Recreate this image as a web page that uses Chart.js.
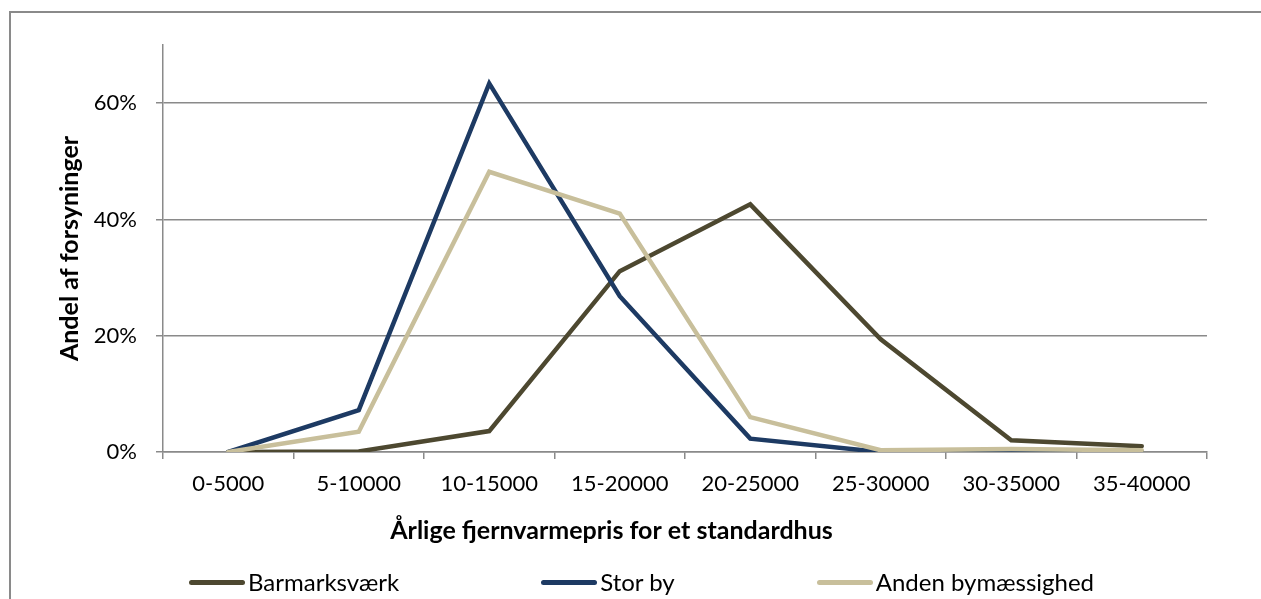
<!DOCTYPE html>
<html>
<head>
<meta charset="utf-8">
<script src="https://cdn.jsdelivr.net/npm/chart.js@4"></script>
<style>
    body { margin: 0; background: #fff; font-family: Lato, sans-serif; }
    #wrap { position: relative; width: 1261px; height: 599px; overflow: hidden; }
    #frame { position: absolute; left: 9px; top: 11px; width: 1300px; height: 700px; border: 2px solid #8a8a8a; }
    #chart { position: absolute; left: 0; top: 0; }
    #legend { position: absolute; left: 189px; top: 567px; display: flex; align-items: center; height: 30px; }
    .item { display: flex; align-items: center; margin-right: 142px; }
    .swatch { width: 56px; height: 5px; border-radius: 3px; margin-right: 3px; }
    .label { font-size: 24px; color: #000; line-height: 30px; }
</style>
</head>
<body>
<div id="wrap">
    <div id="frame"></div>
    <canvas id="chart" width="1261" height="599"></canvas>
    <div id="legend"></div>
</div>
<script>
const categories = ['0-5000', '5-10000', '10-15000', '15-20000', '20-25000', '25-30000', '30-35000', '35-40000'];
const barmarksvaerk = [0, 0.1, 3.6, 31.1, 42.6, 19.4, 2.0, 1.0];
const storBy = [0, 7.2, 63.4, 26.8, 2.3, 0, 0.1, 0.1];
const andenBymaessighed = [0, 3.5, 48.2, 41.0, 6.0, 0.3, 0.5, 0.3];
const yTicks = [0, 20, 40, 60];

const seriesNames = ['Barmarksværk', 'Stor by', 'Anden bymæssighed'];
const seriesColors = ['#4d4830', '#1d3a63', '#c8bf9b'];

const axisColor = '#8a8a8a';

function makeDataset(i, values) {
    return {
        label: seriesNames[i],
        data: values,
        borderColor: seriesColors[i],
        backgroundColor: seriesColors[i],
        borderWidth: 4.5,
        borderJoinStyle: 'miter',
        borderCapStyle: 'round',
        pointRadius: 0,
        tension: 0,
        fill: false,
        // later series on top, like the original
        order: 3 - i
    };
}

const chart = new Chart(document.getElementById('chart'), {
    type: 'line',
    data: {
        labels: categories,
        datasets: [
            makeDataset(0, barmarksvaerk),
            makeDataset(1, storBy),
            makeDataset(2, andenBymaessighed)
        ]
    },
    options: {
        responsive: false,
        animation: false,
        devicePixelRatio: 1,
        layout: { padding: { top: 45, right: 54, bottom: 0, left: 16 } },
        plugins: {
            legend: { display: false },
            tooltip: { enabled: false },
            title: {
                display: true,
                position: 'bottom',
                text: 'Årlige fjernvarmepris for et standardhus',
                color: '#000',
                font: { family: 'Lato', size: 25, weight: 'bold' },
                padding: { top: 0, bottom: 53 }
            }
        },
        scales: {
            x: {
                offset: true,
                grid: {
                    display: true,
                    drawOnChartArea: false,
                    offset: true,
                    tickLength: 7,
                    color: axisColor,
                    lineWidth: 1.5
                },
                border: { display: true, color: axisColor, width: 1.5 },
                ticks: {
                    color: '#000',
                    font: { family: 'Lato', size: 22 },
                    padding: 12,
                    maxRotation: 0,
                    autoSkip: false
                },
                afterFit: function(scale) {
                    scale.height = 64;
                }
            },
            y: {
                min: 0,
                max: 70,
                grid: {
                    tickLength: 7,
                    color: axisColor,
                    lineWidth: 1.5
                },
                border: { display: true, color: axisColor, width: 1.5 },
                ticks: {
                    stepSize: 20,
                    color: '#000',
                    font: { family: 'Lato', size: 22 },
                    padding: 19,
                    callback: function(value) {
                        return value + '%';
                    }
                },
                afterBuildTicks: function(scale) {
                    scale.ticks = yTicks.map(v => ({ value: v }));
                },
                title: {
                    display: true,
                    text: 'Andel af forsyninger',
                    color: '#000',
                    font: { family: 'Lato', size: 25, weight: 'bold' },
                    padding: { top: 39, bottom: 0 }
                },
                afterFit: function(scale) {
                    scale.width = 147;
                }
            }
        }
    }
});

// legend built from the chart's datasets
const legendEl = document.getElementById('legend');
chart.data.datasets.forEach(ds => {
    const item = document.createElement('div');
    item.className = 'item';
    const swatch = document.createElement('span');
    swatch.className = 'swatch';
    swatch.style.background = ds.borderColor;
    const label = document.createElement('span');
    label.className = 'label';
    label.textContent = ds.label;
    item.appendChild(swatch);
    item.appendChild(label);
    legendEl.appendChild(item);
});
</script>
</body>
</html>
